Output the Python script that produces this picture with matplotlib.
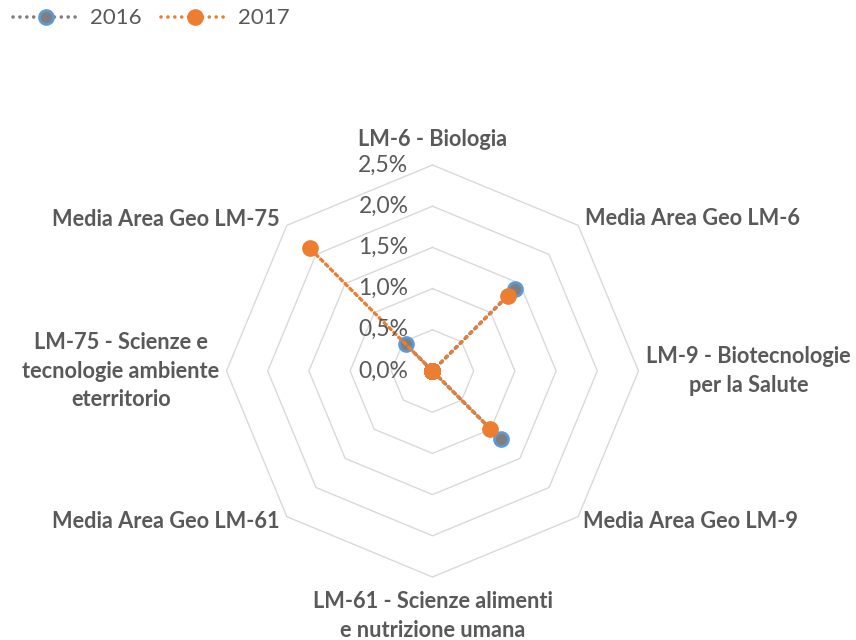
import numpy as np
import matplotlib
matplotlib.use("Agg")
import matplotlib.pyplot as plt
from matplotlib.lines import Line2D
from matplotlib.transforms import offset_copy

categories = [
    "LM-6 - Biologia",
    "Media Area Geo LM-6",
    "LM-9 - Biotecnologie\nper la Salute",
    "Media Area Geo LM-9",
    "LM-61 - Scienze alimenti\ne nutrizione umana",
    "Media Area Geo LM-61",
    "LM-75 - Scienze e\ntecnologie ambiente\neterritorio",
    "Media Area Geo LM-75",
]
values_2016 = [0.0, 1.41, 0.0, 1.17, 0.0, 0.0, 0.0, 0.46]
values_2017 = [0.0, 1.29, 0.0, 0.99, 0.0, 0.0, 0.0, 2.11]
ring_values = [0.0, 0.5, 1.0, 1.5, 2.0, 2.5]
ring_labels = ["0,0%", "0,5%", "1,0%", "1,5%", "2,0%", "2,5%"]
series_names = ["2016", "2017"]

TXT = "#595959"
GRID = "#D9D9D9"
C16_LINE = "#7F7F7F"
C16_EDGE = "#5B9BD5"
C17 = "#ED7D31"
FONT = "Lato"

fig = plt.figure(figsize=(8.56, 6.4), dpi=100)
cx, cy, R = 432.5, 371.0, 206.0
W, H = 856.0, 640.0
ax = fig.add_axes([(cx - R) / W, (H - cy - R) / H, 2 * R / W, 2 * R / H],
                  projection="polar")
ax.set_theta_zero_location("N")
ax.set_theta_direction(-1)
ax.set_ylim(0, ring_values[-1])
ax.grid(False)
ax.spines["polar"].set_visible(False)
ax.set_xticks([])
ax.set_yticks([])
ax.patch.set_alpha(0)

n = len(categories)
theta = np.linspace(0, 2 * np.pi, n, endpoint=False)
theta_closed = np.append(theta, theta[0])

# octagonal grid rings
for rv in ring_values[1:]:
    ax.plot(theta_closed, [rv] * (n + 1), color=GRID, lw=1.0, zorder=1,
            clip_on=False)

# ring labels
for rv, lab in zip(ring_values, ring_labels):
    tr = offset_copy(ax.transData, fig=fig, x=-24, y=0, units="dots")
    ax.text(0, rv, lab, transform=tr, ha="right", va="center",
            fontsize=16.5, color=TXT, family=FONT, zorder=5)

# category labels
offsets = [(0, 26, "center", "center"),
           (7, 7, "left", "center"),
           (8, 0, "left", "center"),
           (5, -5, "left", "center"),
           (0, -39, "center", "center"),
           (-7, -5, "right", "center"),
           (-7, 0, "right", "center"),
           (-7, 6, "right", "center")]
for t, lab, (dx, dy, ha, va) in zip(theta, categories, offsets):
    tr = offset_copy(ax.transData, fig=fig, x=dx, y=dy, units="dots")
    ax.text(t, ring_values[-1], lab, transform=tr, ha=ha, va=va,
            multialignment="center", fontsize=15.7, fontweight="bold",
            color=TXT, family=FONT, linespacing=1.42)

ls = (0, (0.01, 1.9))
LW = 2.6
v16 = np.append(values_2016, values_2016[0])
v17 = np.append(values_2017, values_2017[0])
ax.plot(theta_closed, v16, color=C16_LINE, lw=LW, linestyle=ls,
        dash_capstyle="round", marker="o", markersize=10,
        markerfacecolor=C16_LINE, markeredgecolor=C16_EDGE,
        markeredgewidth=2, zorder=3, clip_on=False)
ax.plot(theta_closed, v17, color=C17, lw=LW, linestyle=ls,
        dash_capstyle="round", marker="o", markersize=11,
        markerfacecolor=C17, markeredgecolor=C17, zorder=4, clip_on=False)

handles = [
    Line2D([], [], color=C16_LINE, lw=LW, linestyle=ls,
           dash_capstyle="round", marker="o",
           markersize=10, markerfacecolor=C16_LINE,
           markeredgecolor=C16_EDGE, markeredgewidth=2),
    Line2D([], [], color=C17, lw=LW, linestyle=ls, dash_capstyle="round",
           marker="o", markersize=11, markerfacecolor=C17,
           markeredgecolor=C17),
]
leg = fig.legend(handles, series_names, loc="upper left",
                 bbox_to_anchor=(-0.008, 1.018), ncol=2, frameon=False,
                 handlelength=3.0, handletextpad=0.45, columnspacing=0.9,
                 prop={"family": FONT, "size": 16})
for t in leg.get_texts():
    t.set_color(TXT)

fig.savefig("out.png", dpi=100)
